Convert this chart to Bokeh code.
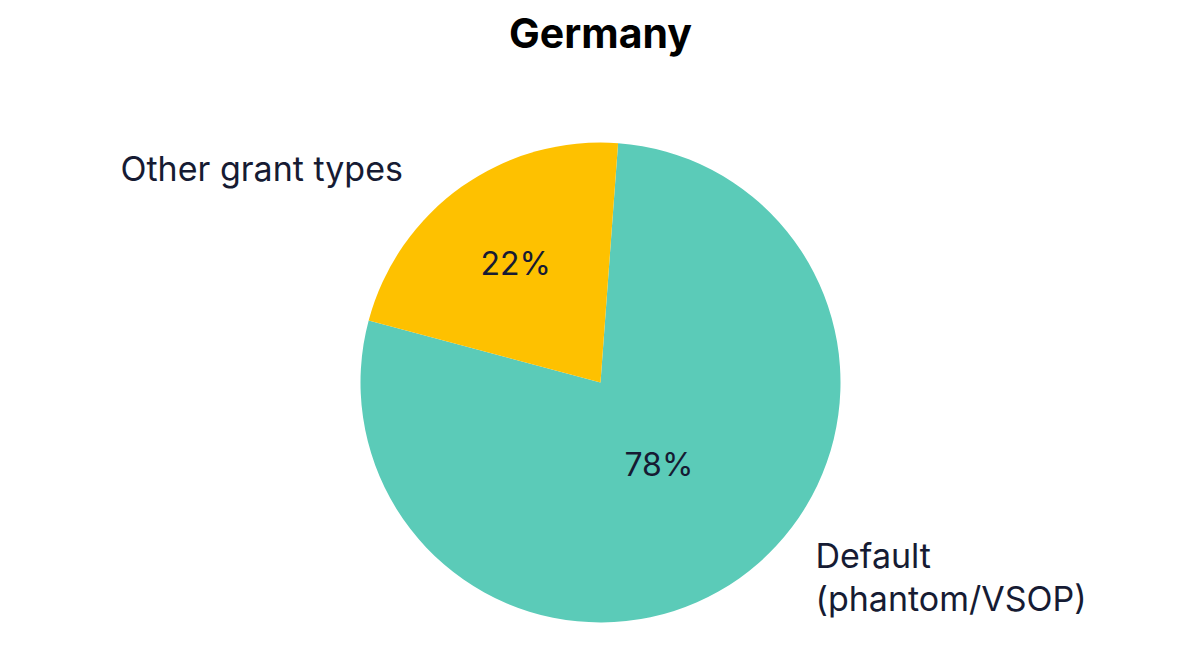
import math
from bokeh.plotting import figure
from bokeh.models import Range1d
from bokeh.core.properties import value
from bokeh.embed import file_html
from bokeh.resources import INLINE

title = "Germany"
categories = ["Default (phantom/VSOP)", "Other grant types"]
label_lines = [["Default", "(phantom/VSOP)"], ["Other grant types"]]
values = [78, 22]
pct_labels = ["78%", "22%"]
colors = ["#5BCBB8", "#FEC100"]

W, H = 1184, 644
FONT = "Inter"
TXT = "#161B33"

p = figure(width=W, height=H, output_backend="svg", toolbar_location=None,
           x_range=Range1d(0, W), y_range=Range1d(0, H), min_border=0)
p.axis.visible = False
p.grid.visible = False
p.outline_line_color = None
p.background_fill_color = "white"
p.border_fill_color = "white"

cx, cy, r = 600, 262, 240
start0 = math.radians(165)
total = sum(values)
starts, ends = [], []
a = start0
for v in values:
    starts.append(a)
    a += v / total * 2 * math.pi
    ends.append(a)

p.wedge(x=[cx] * len(values), y=[cy] * len(values), radius=r,
        start_angle=starts, end_angle=ends, fill_color=colors, line_color=None)

# percent labels
radii = [0.42, 0.61]
px, py = [], []
for s, e, rf in zip(starts, ends, radii):
    m = (s + e) / 2
    px.append(cx + rf * r * math.cos(m))
    py.append(cy + rf * r * math.sin(m))
p.text(x=px, y=py, text=pct_labels, text_align="center", text_baseline="middle",
       text_font=value(FONT), text_font_size="32px", text_color=TXT)

# category labels
p.text(x=[815, 815], y=[89, 46], text=label_lines[0], text_align="left",
       text_baseline="middle", text_font=value(FONT), text_font_size="34px", text_color=TXT)
p.text(x=[120], y=[476], text=label_lines[1], text_align="left",
       text_baseline="middle", text_font=value(FONT), text_font_size="34px", text_color=TXT)

# title
p.text(x=[600], y=[612], text=[title], text_align="center", text_baseline="middle",
       text_font=value(FONT), text_font_size="41px", text_font_style="bold", text_color="#000000")

open("out.html", "w").write(file_html(p, INLINE))
